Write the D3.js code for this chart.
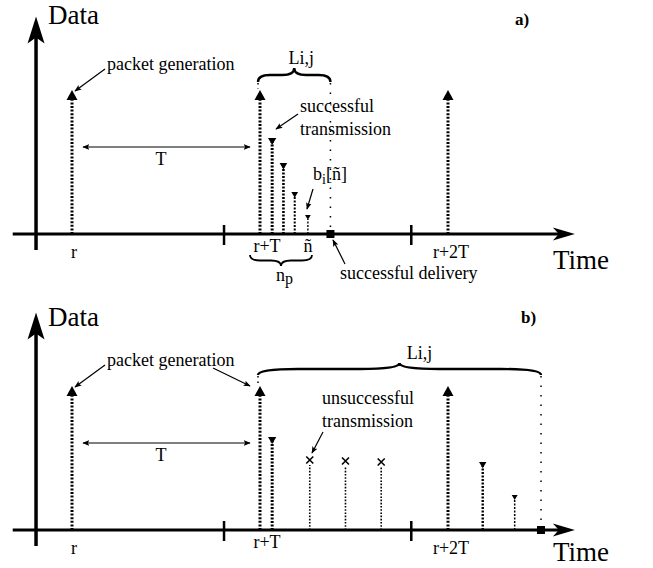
<!DOCTYPE html>
<html>
<head>
<meta charset="utf-8">
<script src="https://cdn.jsdelivr.net/npm/d3@7"></script>
<style>
body{margin:0;background:#fff;}
svg text{font-family:"Liberation Serif","Times New Roman",Tinos,"DejaVu Serif",serif;fill:#000;}
</style>
</head>
<body>
<div id="chart"></div>
<script>
// time in units of T (r = 0), heights relative to a packet generation
var genTimes = [0, 1, 2];
var genValue = 1;
var slotTicks = [0.814, 1.81];
var tickLabels = ["r", "r+T", "r+2T"];

var txTimesA = [1.07, 1.13, 1.19, 1.26];
var txValuesA = [0.667, 0.493, 0.292, 0.132];
var deliveryA = 1.38;

var txTimesB = [1.07, 2.19, 2.36];
var txValuesB = [0.646, 0.472, 0.243];
var failTimesB = [1.27, 1.46, 1.65];
var failValuesB = [0.486, 0.479, 0.472];
var deliveryB = 2.5;

function init() {

    var w=653;
    var h=568;

    var xscale=d3.scaleLinear()
                .domain([0,2])
                .range([71,447]);

    var svg=d3.select("#chart")
              .append("svg")
              .attr("width",w)
              .attr("height",h)
              .attr("font-family","'Liberation Serif', 'DejaVu Serif', serif");

    var defs=svg.append("defs");
    defs.append("marker")
        .attr("id","head")
        .attr("viewBox","0 0 10 10")
        .attr("refX",9)
        .attr("refY",5)
        .attr("markerWidth",7)
        .attr("markerHeight",7)
        .attr("markerUnits","userSpaceOnUse")
        .attr("orient","auto-start-reverse")
        .append("path")
        .attr("d","M0,1 L10,5 L0,9 L2,5 Z");

    function brace(x1,x2,yEnd,yTip,r){
        var tx=(x1+x2)/2, ym=(yEnd+yTip)/2;
        return "M"+x1+","+yEnd+" Q"+x1+","+ym+" "+(x1+r)+","+ym+
               " L"+(tx-r)+","+ym+" Q"+tx+","+ym+" "+tx+","+yTip+
               " Q"+tx+","+ym+" "+(tx+r)+","+ym+
               " L"+(x2-r)+","+ym+" Q"+x2+","+ym+" "+x2+","+yEnd;
    }

    function annArrow(x1,y1,x2,y2){
        svg.append("line")
            .attr("x1",x1).attr("y1",y1)
            .attr("x2",x2).attr("y2",y2)
            .attr("stroke","black")
            .attr("stroke-width",1.2)
            .attr("marker-end","url(#head)");
    }

    function label(x,y,txt,size,anchor){
        return svg.append("text")
            .attr("x",x).attr("y",y)
            .attr("text-anchor",anchor||"start")
            .style("font-size",(size||18)+"px")
            .text(txt);
    }

    function panel(base, tx, txv, txw, fails, failv, delivery, tag){
        var yscale=d3.scaleLinear()
                    .domain([0,1])
                    .range([base,base-144]);
        var g=svg.append("g");

        // axes
        var x0=xscale(-0.31), x1=xscale(2.68), xa=xscale(-0.186);
        g.append("line")
            .attr("x1",x0).attr("y1",base)
            .attr("x2",x1-14).attr("y2",base)
            .attr("stroke","black").attr("stroke-width",3);
        g.append("path")
            .attr("d","M"+x1+","+base+" L"+(x1-22)+","+(base-6.5)+" L"+(x1-16)+","+base+" L"+(x1-22)+","+(base+6.5)+" Z");
        var top=yscale(1.51);
        g.append("line")
            .attr("x1",xa).attr("y1",base+16)
            .attr("x2",xa).attr("y2",top+20)
            .attr("stroke","black").attr("stroke-width",3.5);
        g.append("path")
            .attr("d","M"+xa+","+top+" L"+(xa+8.5)+","+(top+27)+" L"+xa+","+(top+21)+" L"+(xa-8.5)+","+(top+27)+" Z");

        g.selectAll(".tick")
            .data(slotTicks)
            .enter()
            .append("line")
            .attr("x1",function(d){return xscale(d);})
            .attr("x2",function(d){return xscale(d);})
            .attr("y1",base-9)
            .attr("y2",base+11)
            .attr("stroke","black")
            .attr("stroke-width",2.5);

        // packet generation arrows
        g.selectAll(".gen")
            .data(genTimes)
            .enter()
            .append("line")
            .attr("x1",function(d){return xscale(d)+1;})
            .attr("x2",function(d){return xscale(d)+1;})
            .attr("y1",base)
            .attr("y2",yscale(genValue)+10)
            .attr("stroke","black")
            .attr("stroke-width",3)
            .attr("stroke-dasharray","2,1.6");
        g.selectAll(".genhead")
            .data(genTimes)
            .enter()
            .append("path")
            .attr("d",function(d){
                var x=xscale(d)+1, y=yscale(genValue);
                return "M"+x+","+y+" L"+(x+5.5)+","+(y+10)+" L"+(x-5.5)+","+(y+10)+" Z";
            });

        // successful transmissions
        var txd=tx.map(function(t,i){return [t,txv[i],txw[i]];});
        g.selectAll(".tx")
            .data(txd)
            .enter()
            .append("line")
            .attr("x1",function(d){return xscale(d[0]);})
            .attr("x2",function(d){return xscale(d[0]);})
            .attr("y1",base)
            .attr("y2",function(d){return yscale(d[1])+4;})
            .attr("stroke","black")
            .attr("stroke-width",function(d){return d[2];})
            .attr("stroke-dasharray","2,1.5");
        g.selectAll(".txhead")
            .data(txd)
            .enter()
            .append("path")
            .attr("d",function(d){
                var x=xscale(d[0]), y=yscale(d[1]), s=d[2]*1.6+3.5;
                return "M"+(x-s/2)+","+y+" L"+(x+s/2)+","+y+" L"+x+","+(y+s*0.85)+" Z";
            });

        // unsuccessful transmissions
        var fd=fails.map(function(t,i){return [t,failv[i]];});
        g.selectAll(".fail")
            .data(fd)
            .enter()
            .append("line")
            .attr("x1",function(d){return xscale(d[0]);})
            .attr("x2",function(d){return xscale(d[0]);})
            .attr("y1",base)
            .attr("y2",function(d){return yscale(d[1])+5;})
            .attr("stroke","black")
            .attr("stroke-width",1.6)
            .attr("stroke-dasharray","1.6,1.6");
        g.selectAll(".cross")
            .data(fd)
            .enter()
            .append("path")
            .attr("d",function(d){
                var x=xscale(d[0]), y=yscale(d[1]);
                return "M"+(x-3.5)+","+(y-3.5)+" L"+(x+3.5)+","+(y+3.5)+
                       " M"+(x+3.5)+","+(y-3.5)+" L"+(x-3.5)+","+(y+3.5);
            })
            .attr("stroke","black")
            .attr("stroke-width",1.6);

        // delay L_ij: brace + sparse dotted lines
        var bl=xscale(1)-1, br=xscale(delivery);
        var yEnd=tag=="a)" ? base-152 : base-155;
        var yTip=tag=="a)" ? base-166 : base-167;
        g.append("path")
            .attr("d",brace(bl,br,yEnd,yTip,tag=="a)"?12:40))
            .attr("fill","none")
            .attr("stroke","black")
            .attr("stroke-width",2.4);
        g.append("line")
            .attr("x1",bl).attr("x2",bl)
            .attr("y1",yEnd+1).attr("y2",yscale(genValue)-1)
            .attr("stroke","black").attr("stroke-width",1.5)
            .attr("stroke-dasharray","1.5,4");
        g.append("line")
            .attr("x1",br).attr("x2",br)
            .attr("y1",yEnd+1).attr("y2",base-5)
            .attr("stroke","black").attr("stroke-width",1.5)
            .attr("stroke-dasharray","1.5,8");
        g.append("rect")
            .attr("x",br-4).attr("y",base-4)
            .attr("width",8).attr("height",8);
        label((bl+br)/2+(tag=="a)"?7:20), yTip-4, "Li,j", 18, "middle");

        // T span
        svg.append("line")
            .attr("x1",xscale(0)+12).attr("y1",base-87)
            .attr("x2",xscale(1)-9).attr("y2",base-87)
            .attr("stroke","black").attr("stroke-width",1.2)
            .attr("marker-start","url(#head)")
            .attr("marker-end","url(#head)");
        label((xscale(0)+xscale(1))/2-4, base-69, "T", 18, "middle");

        // axis labels
        label(xscale(-0.186)+12, base-210+(tag=="a)"?0:6), "Data", 27);
        label(553, base+(tag=="a)"?35:31), "Time", 27);
        label(tag=="a)"?515:521, base-209+(tag=="a)"?0:2), tag, 17)
            .style("font-weight","bold");

        label(xscale(0)+3, base+24, tickLabels[0], 18, "middle");
        label(xscale(1)+8, base+18, tickLabels[1], 18, "middle");
        label(xscale(2)+4, base+24, tickLabels[2], 18, "middle");

        label(107, base-164, "packet generation", 18);
        annArrow(105, base-165, xscale(0)+4, base-143);
    }

    panel(234, txTimesA, txValuesA, [3,2.6,2,1.4], [], [], deliveryA, "a)");
    panel(530, txTimesB, txValuesB, [3,2.4,1.5], failTimesB, failValuesB, deliveryB, "b)");

    // panel a annotations
    label(300, 112, "successful", 18);
    label(300, 135, "transmission", 18);
    annArrow(298, 114, 276, 129);

    var bt=label(313, 180, "b", 18);
    bt.append("tspan").attr("dy",4).style("font-size","14px").text("i");
    bt.append("tspan").attr("dy",-4).text("[ñ]");
    annArrow(313, 189, 307, 209);

    label(xscale(1.26), 252, "ñ", 18, "middle");
    svg.append("path")
        .attr("d",brace(250,312,255,266,10))
        .attr("fill","none")
        .attr("stroke","black")
        .attr("stroke-width",1.8);
    var np=label(276, 281, "n", 18);
    np.append("tspan").attr("dy",3).style("font-size","16px").text("p");

    label(340, 279, "successful delivery", 18);
    annArrow(345, 264, 333, 240);

    // panel b annotations
    annArrow(213, 368, 250, 386);
    label(322, 404, "unsuccessful", 18);
    label(322, 427, "transmission", 18);
    annArrow(323, 432, 312, 453);

}

window.onload = init;
</script>
</body>
</html>
